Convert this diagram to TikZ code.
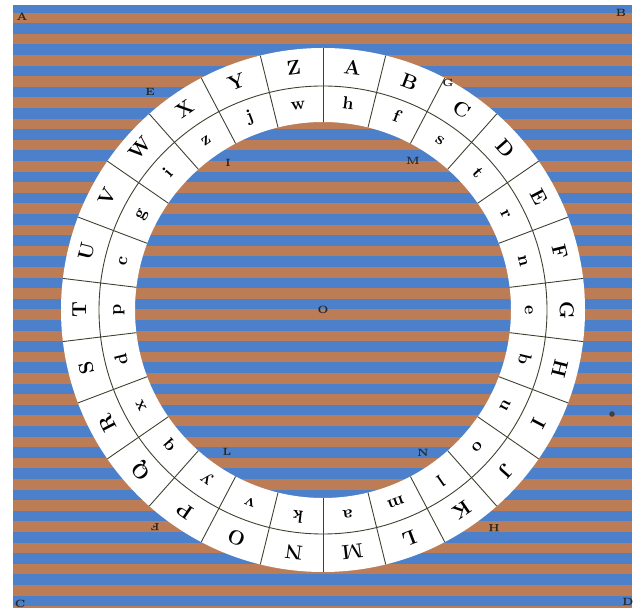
\documentclass[tikz,border=0pt]{standalone}
\usepackage{tikz}
\usetikzlibrary{calc}

\definecolor{stripeblue}{RGB}{76,128,202}
\definecolor{stripebrown}{RGB}{188,124,86}
\definecolor{inkline}{RGB}{60,64,46}
\tikzset{
  caplet/.style={inner sep=0pt, text height=1.6ex, text depth=0pt, font=\fontsize{11.5}{13}\selectfont\bfseries},
  smalllet/.style={inner sep=0pt, text height=1.4ex, text depth=0.3ex, font=\fontsize{10}{12}\selectfont\bfseries},
  pointlab/.style={inner sep=0pt, text=black!85, font=\fontsize{6}{7}\selectfont\bfseries}
}

\begin{document}
\begin{tikzpicture}[x=0.02cm, y=0.02cm]
  \useasboundingbox (0,0) rectangle (642,615);
  \coordinate (O) at (323,305);
  % striped ground
  \begin{scope}
    \clip (13,8) rectangle (632,610);
    \fill[stripeblue] (13,8) rectangle (632,610);
    \foreach \s in {0,...,28}
      \fill[stripebrown] (13,591.7-21.2*\s) rectangle (632,602.3-21.2*\s);
  \end{scope}
  % the wheel
  \fill[white, even odd rule] (O) circle (262) (O) circle (188);
  \draw[inkline, line width=0.5pt] (O) circle (224);
  \foreach \k in {0,...,25}
    \draw[inkline, line width=0.5pt] ($(O)+(90-\k*360/26:188)$) -- ($(O)+(90-\k*360/26:262)$);
  \foreach \up/\lo [count=\k from 0] in {A/h,B/f,C/s,D/t,E/r,F/n,G/e,H/b,I/u,J/o,K/l,L/m,M/a,
      N/k,O/v,P/y,Q/q,R/x,S/d,T/p,U/c,V/g,W/i,X/z,Y/j,Z/w}{
    \pgfmathsetmacro\ang{90-(\k+0.5)*360/26}
    \node[caplet, rotate=\ang-90] (out\up) at ($(O)+(\ang:243)$) {\up};
    \node[smalllet, rotate=\ang-90] (in\up) at ($(O)+(\ang:206)$) {\lo};
  }
  % reference letters
  \node[pointlab] (ptA) at (22,598) {A};
  \node[pointlab] (ptB) at (621,602) {B};
  \node[pointlab] (ptC) at (20,11) {C};
  \node[pointlab] (ptD) at (628,13) {D};
  \node[pointlab] (ptE) at (150,523) {E};
  \node[pointlab] (ptG) at (448,532) {G};
  \node[pointlab] (ptI) at (228,452) {I};
  \node[pointlab] (ptM) at (413,454) {M};
  \node[pointlab] (ptO) at (O) {O};
  \node[pointlab] (ptL) at (227,163) {L};
  \node[pointlab] (ptN) at (423,162) {N};
  \node[pointlab, rotate=180] (ptF) at (155,88) {F};
  \node[pointlab, rotate=180] (ptH) at (494,87) {H};
  \fill[black!75] (612,201) circle (2.8);
\end{tikzpicture}
\end{document}
